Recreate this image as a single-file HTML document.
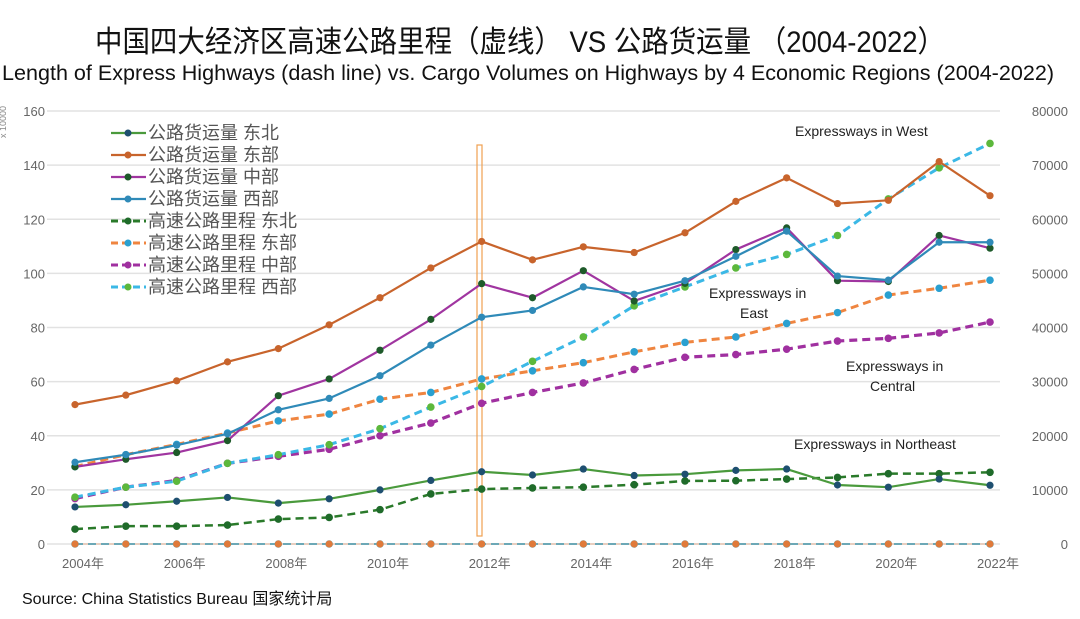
<!DOCTYPE html>
<html><head><meta charset="utf-8"><style>
html,body{margin:0;padding:0;background:#fff;}
svg{display:block;font-family:"Liberation Sans","Noto Sans CJK SC",sans-serif;}
</style></head><body>
<svg id="chart" width="1080" height="619" viewBox="0 0 1080 619">
<text x="95" y="52" font-size="30" textLength="850" lengthAdjust="spacingAndGlyphs" fill="#111">中国四大经济区高速公路里程（虚线） VS 公路货运量 （2004-2022）</text>
<text x="2" y="80" font-size="21" textLength="1052" lengthAdjust="spacingAndGlyphs" fill="#111">Length of Express Highways (dash line) vs. Cargo Volumes on Highways by 4 Economic Regions (2004-2022)</text>
<text transform="translate(6,138) rotate(-90)" font-size="9" fill="#888">x 10000</text>
<g id="grid"></g>
<g id="axes"></g>
<rect x="477" y="145" width="5" height="391" fill="none" stroke="#f0a050" stroke-width="1.2"/>
<g id="series"></g>
<g id="legend"></g>
<text x="795" y="136" font-size="14" fill="#222">Expressways in West</text>
<text x="709" y="298" font-size="14" fill="#222">Expressways in</text>
<text x="740" y="318" font-size="14" fill="#222">East</text>
<text x="846" y="371" font-size="14" fill="#222">Expressways in</text>
<text x="870" y="391" font-size="14" fill="#222">Central</text>
<text x="794" y="449" font-size="14" fill="#222">Expressways in Northeast</text>
<text x="22" y="604" font-size="16" fill="#111">Source: China Statistics Bureau 国家统计局</text>
</svg>
<script>
const years = [2004,2005,2006,2007,2008,2009,2010,2011,2012,2013,2014,2015,2016,2017,2018,2019,2020,2021,2022];
const leftTicks = [0,20,40,60,80,100,120,140,160];
const rightTicks = [0,10000,20000,30000,40000,50000,60000,70000,80000];
const xTickYears = [2004,2006,2008,2010,2012,2014,2016,2018,2020,2022];
const cargoNE = [13.7,14.5,15.8,17.2,15.1,16.7,20,23.5,26.7,25.5,27.7,25.3,25.8,27.2,27.7,21.8,21,24,21.7];
const cargoEast = [51.5,55,60.3,67.3,72.2,81,91,102,111.8,105,109.8,107.7,115,126.6,135.3,125.8,127,141.3,128.7];
const cargoCentral = [28.5,31.3,33.8,38.2,54.8,61,71.6,83,96.2,91,101,89.8,96.3,108.8,116.8,97.3,97,114,109.3];
const cargoWest = [30.2,33,36.5,40.7,49.6,53.8,62.2,73.5,83.8,86.3,95,92.3,97.3,106.3,115.6,99,97.5,111.5,111.5];
const hwNE = [2750,3300,3300,3500,4600,4900,6350,9250,10150,10350,10500,10950,11650,11700,12000,12300,13000,13000,13250];
const hwEast = [14300,16500,18400,20500,22750,24000,26750,28000,30500,32000,33500,35500,37250,38250,40750,42750,46000,47250,48750];
const hwCentral = [8400,10500,11750,14900,16200,17500,20000,22350,26000,28000,29750,32250,34500,35000,36000,37500,38000,39000,41000];
const hwWest = [8650,10500,11600,14900,16500,18350,21300,25300,29100,33750,38250,44000,47500,51000,53500,57000,63750,69500,74000];
const zeroSeries = [0,0,0,0,0,0,0,0,0,0,0,0,0,0,0,0,0,0,0];

const NS='http://www.w3.org/2000/svg';
const x0=75, x1=990, yBase=544, yTop=111;
const xs = yr => x0 + (yr-years[0])*(x1-x0)/(years[years.length-1]-years[0]);
const yL = v => yBase - v*(yBase-yTop)/160;
const yR = v => yBase - v*(yBase-yTop)/80000;
function mk(tag, attrs, parent){const e=document.createElementNS(NS,tag);for(const k in attrs)e.setAttribute(k,attrs[k]);parent.appendChild(e);return e;}
const grid=document.getElementById('grid'), axes=document.getElementById('axes'), ser=document.getElementById('series'), leg=document.getElementById('legend');

leftTicks.forEach((t,i)=>{
  const l=mk('line',{x1:47,x2:1000,y1:yL(t),y2:yL(t),stroke:'#e2e2e2','stroke-width':1.5},grid);
  
  
  const tx=mk('text',{x:45,y:yL(t)+5,'font-size':13,'text-anchor':'end',fill:'#666'},axes);
  tx.textContent=t;
  
  
});
rightTicks.forEach(t=>{
  const tx=mk('text',{x:1068,y:yR(t)+5,'font-size':13,'text-anchor':'end',fill:'#666'},axes);
  tx.textContent=t;
  
  
});
xTickYears.forEach(yr=>{
  const tx=mk('text',{x:xs(yr)+8,y:568,'font-size':13,'text-anchor':'middle',fill:'#666'},axes);
  tx.textContent=yr+'年';
  
  
});

function series(vals, scale, color, dotColor, dashed, width, name){
  const g=mk('g',{},ser);
  
  
  const pts=vals.map((v,i)=>xs(years[i])+','+scale(v)).join(' ');
  const attrs={points:pts,fill:'none',stroke:color,'stroke-width':width,'stroke-linejoin':'round'};
  if(dashed) attrs['stroke-dasharray']='8,5';
  const pl=mk('polyline',attrs,g);
  
  
  vals.forEach((v,i)=>{
    const c=mk('circle',{cx:xs(years[i]),cy:scale(v),r:dashed?3.8:3.6,fill:dotColor},g);
    
    
  });
}
series(zeroSeries,yR,'#45b8e0','#45b8e0',true,2,'zero-series-cyan');
series(zeroSeries,yL,'#e0783a','#e07a3a',false,0.5,'zero-series-orange');
series(hwNE,yR,'#2a7a2a','#1f6b2a',true,2.5,'hw-northeast');
series(hwCentral,yR,'#a030a0','#a030a0',true,3.2,'hw-central');
series(hwEast,yR,'#ef8540','#2aa0d0',true,3,'hw-east');
series(hwWest,yR,'#3bb8e6','#5cb83c',true,3,'hw-west');
series(cargoNE,yL,'#4a9a3c','#1e4f70',false,2.2,'cargo-northeast');
series(cargoEast,yL,'#c8642c','#c8642c',false,2.2,'cargo-east');
series(cargoCentral,yL,'#a035a0','#1e5a2a',false,2.2,'cargo-central');
series(cargoWest,yL,'#2f8ab8','#2f8ab8',false,2.2,'cargo-west');

const legNames=['公路货运量 东北','公路货运量 东部','公路货运量 中部','公路货运量 西部','高速公路里程 东北','高速公路里程 东部','高速公路里程 中部','高速公路里程 西部'];
const legLine=['#4a9a3c','#c8642c','#a035a0','#2f8ab8','#2a7a2a','#ef8540','#a030a0','#3bb8e6'];
const legDot=['#1e4f70','#c8642c','#1e5a2a','#2f8ab8','#1f6b2a','#2aa0d0','#a030a0','#5cb83c'];
legNames.forEach((n,i)=>{
  const y=133+i*22;
  const g=mk('g',{},leg);
  
  
  const a={x1:111,x2:146,y1:y,y2:y,stroke:legLine[i],'stroke-width':i<4?2.2:3};
  if(i>=4)a['stroke-dasharray']='7,4';
  mk('line',a,g);
  mk('circle',{cx:128,cy:y,r:3.5,fill:legDot[i]},g);
  const t=mk('text',{x:148,y:y+6,'font-size':18,fill:'#555'},g);
  t.textContent=n;
});
</script>
</body></html>
